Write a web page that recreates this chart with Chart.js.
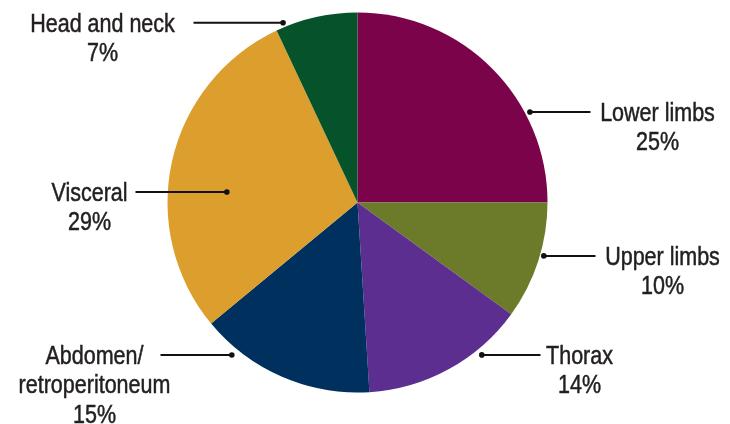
<!DOCTYPE html>
<html>
<head>
<meta charset="utf-8">
<script src="https://cdn.jsdelivr.net/npm/chart.js@4/dist/chart.umd.min.js"></script>
<style>
html,body{margin:0;padding:0;background:#fff;}
#wrap{width:730px;height:424px;position:relative;}
</style>
</head>
<body>
<div id="wrap"><canvas id="c" width="730" height="424"></canvas></div>
<script>
// Data
const categories = ["Lower limbs", "Upper limbs", "Thorax", "Abdomen/\nretroperitoneum", "Visceral", "Head and neck"];
const percentages = [25, 10, 14, 15, 29, 7];
const sliceColors = ["#7a034a", "#6b7b29", "#5b2e8f", "#00305e", "#dc9e2c", "#06532b"];

// Leader-line annotation layout (angle clockwise from top in degrees, dot radius factor,
// line end x offset from centre, text centre x offset)
const leaderLayout = [
  {angle: 62.3, rf: 1.025, lineEnd: 233, textX: 300},
  {angle: 106,  rf: 1.02,  lineEnd: 238, textX: 305},
  {angle: 140.8,rf: 1.035, lineEnd: 183, textX: 222},
  {angle: 219.5,rf: 1.04,  lineEnd: -197, textX: -263},
  {angle: 274.6,rf: 0.69,  lineEnd: -222, textX: -268},
  {angle: 337.5,rf: 1.024, lineEnd: -164, textX: -255}
];

const leaderPlugin = {
  id: 'leaders',
  afterDatasetsDraw(chart) {
    const ctx = chart.ctx;
    const meta = chart.getDatasetMeta(0);
    const arc0 = meta.data[0];
    const cx = arc0.x, cy = arc0.y, r = arc0.outerRadius;
    ctx.save();
    ctx.font = '25px "Liberation Sans", Arial, sans-serif';
    ctx.textAlign = 'center';
    ctx.textBaseline = 'alphabetic';
    categories.forEach((cat, i) => {
      const L = leaderLayout[i];
      const a = L.angle * Math.PI / 180;
      const dx = Math.sin(a) * r * L.rf;
      const dy = -Math.cos(a) * r * L.rf;
      const px = cx + dx, py = cy + dy;
      ctx.strokeStyle = '#111';
      ctx.lineWidth = 2;
      ctx.beginPath();
      ctx.moveTo(px, py);
      ctx.lineTo(cx + L.lineEnd, py);
      ctx.stroke();
      ctx.fillStyle = '#111';
      ctx.beginPath();
      ctx.arc(px, py, 2.8, 0, Math.PI * 2);
      ctx.fill();
      const lines = cat.split('\n').concat([percentages[i] + '%']);
      ctx.fillStyle = '#231f20';
      ctx.strokeStyle = '#231f20';
      ctx.lineWidth = 0.5;
      const lineH = 29.5;
      const baseY = py + 9;
      lines.forEach((t, k) => {
        const tx = cx + L.textX;
        ctx.save();
        ctx.translate(tx, baseY + k * lineH);
        ctx.scale(0.86, 1);
        ctx.fillText(t, 0, 0);
        ctx.strokeText(t, 0, 0);
        ctx.restore();
      });
    });
    ctx.restore();
  }
};

new Chart(document.getElementById('c'), {
  type: 'pie',
  data: {
    labels: categories,
    datasets: [{
      data: percentages,
      backgroundColor: sliceColors,
      borderWidth: 0
    }]
  },
  options: {
    responsive: false,
    animation: false,
    events: [],
    layout: {padding: {top: 12.5, bottom: 31.5, left: 0, right: 15}},
    plugins: {legend: {display: false}, tooltip: {enabled: false}}
  },
  plugins: [leaderPlugin]
});
</script>
</body>
</html>
